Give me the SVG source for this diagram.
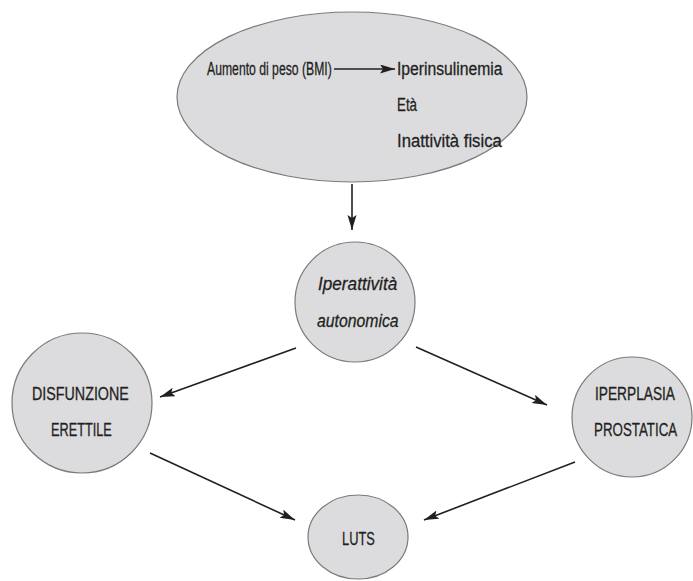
<svg xmlns="http://www.w3.org/2000/svg" width="693" height="581" viewBox="0 0 693 581">
<style>
.node{fill:#dcdcdf;stroke:#7a7a7a;stroke-width:1.2}
text{font-family:"Liberation Sans",Arial,sans-serif;font-size:19px;fill:#231f20;stroke:#231f20;stroke-width:0.3}
.it{font-style:italic}
.edge{stroke:#231f20;stroke-width:1.6;fill:none;marker-end:url(#ah)}
</style>
<defs>
<marker id="ah" markerUnits="userSpaceOnUse" markerWidth="16" markerHeight="10" refX="15" refY="4.5" orient="auto">
<path d="M0,0 L15,4.5 L0,9 L3,4.5 z" fill="#231f20"/>
</marker>
</defs>
<rect width="693" height="581" fill="#fff"/>
<g id="risk">
<ellipse class="node" cx="352" cy="97" rx="175" ry="85"/>
<text transform="translate(207,75) scale(0.8,1)" textLength="156" lengthAdjust="spacingAndGlyphs">Aumento di peso (BMI)</text>
<text transform="translate(397,75) scale(0.8,1)" textLength="132" lengthAdjust="spacingAndGlyphs">Iperinsulinemia</text>
<text transform="translate(397,111) scale(0.8,1)" textLength="25" lengthAdjust="spacingAndGlyphs">Età</text>
<text transform="translate(397,147) scale(0.8,1)" textLength="131" lengthAdjust="spacingAndGlyphs">Inattività fisica</text>
</g>
<g id="autonomica">
<circle class="node" cx="355" cy="302" r="60"/>
<text class="it" transform="translate(318,290) scale(0.8,1)" textLength="99" lengthAdjust="spacingAndGlyphs">Iperattività</text>
<text class="it" transform="translate(317,327) scale(0.8,1)" textLength="102" lengthAdjust="spacingAndGlyphs">autonomica</text>
</g>
<g id="disfunzione">
<circle class="node" cx="82" cy="403" r="70"/>
<text transform="translate(32,400) scale(0.8,1)" textLength="121" lengthAdjust="spacingAndGlyphs">DISFUNZIONE</text>
<text transform="translate(51,436) scale(0.8,1)" textLength="76" lengthAdjust="spacingAndGlyphs">ERETTILE</text>
</g>
<g id="iperplasia">
<circle class="node" cx="632" cy="417" r="60"/>
<text transform="translate(595,400) scale(0.8,1)" textLength="100" lengthAdjust="spacingAndGlyphs">IPERPLASIA</text>
<text transform="translate(594,436) scale(0.8,1)" textLength="104" lengthAdjust="spacingAndGlyphs">PROSTATICA</text>
</g>
<g id="luts">
<ellipse class="node" cx="358" cy="537" rx="50" ry="42"/>
<text transform="translate(342,545) scale(0.8,1)" textLength="41" lengthAdjust="spacingAndGlyphs">LUTS</text>
</g>
<g id="connectors">
<line class="edge" x1="334" y1="69" x2="395" y2="69"/>
<line class="edge" x1="352" y1="184" x2="352" y2="230"/>
<line class="edge" x1="296" y1="348" x2="160" y2="397"/>
<line class="edge" x1="416" y1="347" x2="547" y2="405"/>
<line class="edge" x1="150" y1="453" x2="295" y2="520"/>
<line class="edge" x1="575" y1="462" x2="424" y2="520"/>
</g>
</svg>
